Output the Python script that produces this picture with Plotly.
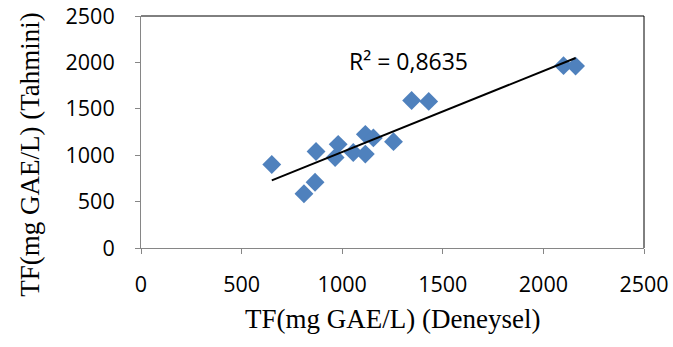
import numpy as np
import plotly.graph_objects as go

# Measured (Deneysel) vs. predicted (Tahmini) total phenolics, mg GAE/L
deneysel = [650, 810, 865, 870, 965, 980, 1055, 1115, 1115, 1155, 1255, 1345, 1430, 2100, 2160]
tahmini = [900, 584, 708, 1040, 975, 1117, 1029, 1012, 1225, 1186, 1146, 1590, 1580, 1965, 1960]

tick_vals = [0, 500, 1000, 1500, 2000, 2500]
r2_label = "R² = 0,8635"

x_title = "TF(mg GAE/L) (Deneysel)"
y_title = "TF(mg GAE/L) (Tahmini)"

# Linear trendline from least squares
slope, intercept = np.polyfit(deneysel, tahmini, 1)
line_x = np.array([min(deneysel), max(deneysel)])
line_y = slope * line_x + intercept

fig = go.Figure()
fig.add_trace(go.Scatter(
    x=deneysel, y=tahmini, mode="markers",
    marker=dict(symbol="diamond", size=14.5, color="#4F81BD", line=dict(width=0)),
    showlegend=False, cliponaxis=False,
))
fig.add_trace(go.Scatter(
    x=line_x, y=line_y, mode="lines",
    line=dict(color="black", width=2),
    showlegend=False,
))

axis_common = dict(
    range=[0, 2500], tickvals=tick_vals, showgrid=False, zeroline=False,
    showline=True, linecolor="#868686", linewidth=1,
    ticks="outside", ticklen=5, tickcolor="#868686", automargin=False,
    ticklabeloverflow="allow",
    tickfont=dict(family="Open Sans", size=21.5, color="black"),
)
fig.update_xaxes(**axis_common, ticklabelstandoff=12)
fig.update_yaxes(**axis_common, ticklabelstandoff=16)

# Black frame on the top and right of the plot area
fig.add_shape(type="line", xref="paper", yref="paper", x0=0, x1=1, y0=1, y1=1,
              line=dict(color="black", width=1))
fig.add_shape(type="line", xref="paper", yref="paper", x0=1, x1=1, y0=0, y1=1,
              line=dict(color="black", width=1))

fig.add_annotation(x=1328, y=2010, text=r2_label, showarrow=False,
                   font=dict(family="Open Sans", size=23, color="black"))
fig.add_annotation(xref="paper", yref="paper", x=0.5, y=-0.3077, text=x_title,
                   showarrow=False, xanchor="center", yanchor="middle",
                   font=dict(family="Liberation Serif", size=27, color="black"))
fig.add_annotation(xref="paper", yref="paper", x=-0.2207, y=0.406, text=y_title,
                   showarrow=False, textangle=-90, xanchor="center", yanchor="middle",
                   font=dict(family="Liberation Serif", size=27, color="black"))

fig.update_layout(
    width=673, height=347,
    margin=dict(l=141, r=29, t=16, b=99),
    paper_bgcolor="white", plot_bgcolor="white",
)

fig.write_html("out.html")
